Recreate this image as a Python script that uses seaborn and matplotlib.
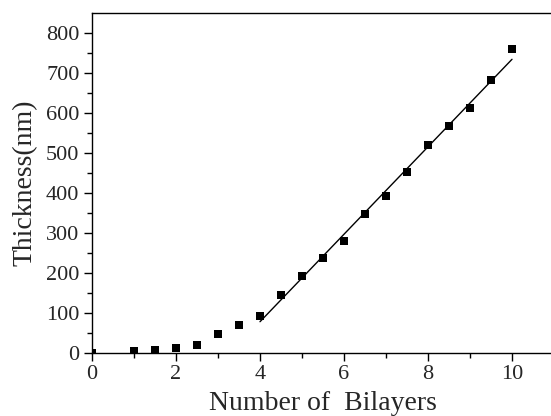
import matplotlib
matplotlib.use("Agg")
import matplotlib.pyplot as plt
import seaborn as sns
import numpy as np
import pandas as pd
from matplotlib.ticker import MultipleLocator

bilayers = [0, 1, 1.5, 2, 2.5, 3, 3.5, 4, 4.5, 5, 5.5, 6, 6.5, 7, 7.5, 8, 8.5, 9, 9.5, 10]
thickness = [0, 5, 7, 11, 19, 47, 69, 91, 143, 192, 237, 279, 347, 392, 452, 520, 566, 611, 682, 758]
fit_start = 4

df = pd.DataFrame({"x": bilayers, "y": thickness})
fit_df = df[df["x"] >= fit_start]

sns.set_theme(style="ticks")
plt.rcParams["font.family"] = ["Liberation Serif", "DejaVu Serif"]

fig = plt.figure(figsize=(5.51, 4.16), dpi=100)
ax = fig.add_axes([92/551, 1-352.7/416, (554-92)/551, (352.7-13)/416])

sns.scatterplot(data=df, x="x", y="y", marker="s", s=32, color="black",
                edgecolor="black", linewidth=0, ax=ax, zorder=3)
sns.regplot(data=fit_df, x="x", y="y", ci=None, scatter=False, truncate=True,
            line_kws={"color": "black", "lw": 1.0}, ax=ax)

ax.set_xlim(0, 11)
ax.set_ylim(0, 849)
ax.xaxis.set_major_locator(MultipleLocator(2))
ax.xaxis.set_minor_locator(MultipleLocator(1))
ax.yaxis.set_major_locator(MultipleLocator(100))
ax.yaxis.set_minor_locator(MultipleLocator(50))
ax.tick_params(which="major", direction="out", length=6, width=1, labelsize=16, pad=3, color="black")
ax.tick_params(which="minor", direction="out", length=3.5, width=1, color="black")
for s in ["left", "bottom", "top"]:
    ax.spines[s].set_visible(True)
    ax.spines[s].set_linewidth(1.0)
    ax.spines[s].set_color("black")
ax.spines["right"].set_visible(False)

ax.set_xlabel("Number of  Bilayers", fontsize=20, labelpad=5)
ax.set_ylabel("Thickness(nm)", fontsize=20, labelpad=6)

fig.savefig("out.png", dpi=100)
